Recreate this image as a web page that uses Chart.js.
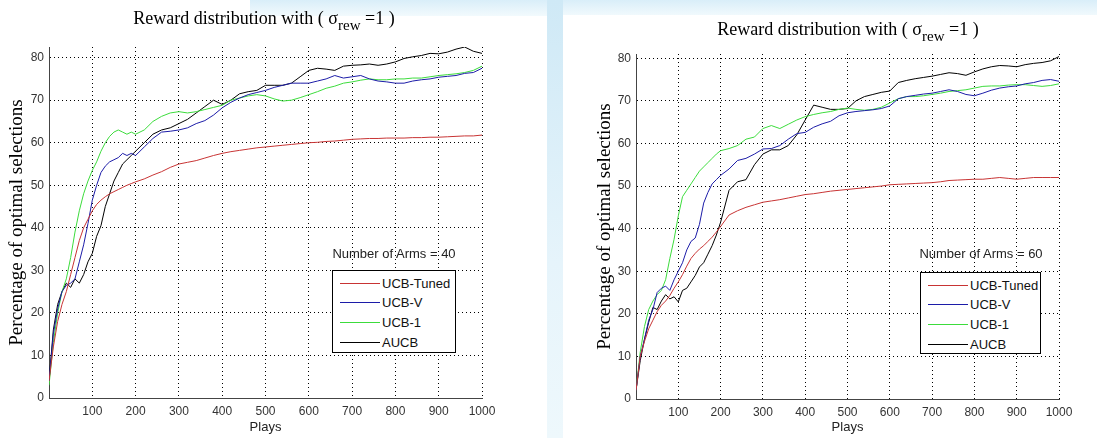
<!DOCTYPE html>
<html>
<head>
<meta charset="utf-8">
<script src="https://cdn.jsdelivr.net/npm/chart.js@4.4.0/dist/chart.umd.min.js"></script>
<style>
  body { margin: 0; width: 1097px; height: 438px; position: relative; overflow: hidden; background: #fff; }
  .tint-top { position: absolute; left: 250px; top: 0; width: 847px; height: 16px;
              background: linear-gradient(to bottom, #d9eef9, #f2fafd); }
  .tint-side { position: absolute; left: 547px; top: 0; width: 16px; height: 438px;
               background: linear-gradient(to bottom, #cfe9f6, #e6f4fb 60%, #eef8fc); }
  .sheet { position: absolute; left: 563px; top: 15px; width: 534px; height: 423px; background: #fff; }
  .box { position: absolute; top: 0; height: 438px; }
  .title { position: absolute; transform: translateX(-50%); white-space: nowrap;
           font: 18px "Liberation Serif", "Times New Roman", serif; line-height: 20px; color: #000; }
  .title sub { font-size: 15px; vertical-align: -6px; line-height: 0; }
  .note { position: absolute; transform: translateX(-50%); white-space: nowrap;
          font: 13px "Liberation Sans", Arial, sans-serif; color: #222; }
  .legend { position: absolute; border: 1px solid #000; background: #fff; box-sizing: border-box;
            font: 13px "Liberation Sans", Arial, sans-serif; color: #111; }
  .legend .row { position: absolute; left: 7px; height: 16px; display: flex; align-items: center; }
  .legend .swatch { width: 40px; height: 0; border-top: 1px solid; margin-right: 2px; }
</style>
</head>
<body>
<div class="tint-top"></div>
<div class="tint-side"></div>
<div class="sheet"></div>

<div class="box" style="left:0;width:548px"><canvas id="c40" width="548" height="438"></canvas></div>
<div class="box" style="left:588px;width:509px"><canvas id="c60" width="509" height="438"></canvas></div>

<div class="title" style="left:264px;top:8px">Reward distribution with ( &sigma;<sub>rew</sub> =1 )</div>
<div class="title" style="left:848px;top:19px">Reward distribution with ( &sigma;<sub>rew</sub> =1 )</div>
<div class="note" style="left:394px;top:246px">Number of Arms = 40</div>
<div class="note" style="left:981px;top:246px">Number of Arms = 60</div>
<div class="legend" id="leg40" style="left:332px;top:270px;width:124px;height:83px"></div>
<div class="legend" id="leg60" style="left:920px;top:272px;width:121px;height:82px"></div>

<script>
// x positions (plays) shared by every series
const plays = [0, 10, 20, 30, 40, 50, 60, 70, 80, 90, 100, 110, 120, 130, 140, 150, 160, 170, 180, 190, 200,
  220, 240, 260, 280, 300, 320, 340, 360, 380, 400, 420, 440, 460, 480, 500, 520, 540, 560, 580, 600,
  620, 640, 660, 680, 700, 720, 740, 760, 780, 800, 820, 840, 860, 880, 900, 920, 940, 960, 980, 1000];

const seriesNames = ['UCB-Tuned', 'UCB-V', 'UCB-1', 'AUCB'];
const seriesColors = ['#c83434', '#1c1ca8', '#3cdc3c', '#000000'];

// Number of arms = 40
const tuned40 = [4, 12, 18, 22, 25, 29, 33, 37, 40, 42, 44, 45.5, 46.5, 47.3, 48, 48.5, 49, 49.5, 50, 50.4, 50.8,
  51.5, 52.4, 53.2, 54.2, 55, 55.4, 55.8, 56.4, 57, 57.5,
  57.9, 58.2, 58.5, 58.8, 59, 59.2, 59.4, 59.6, 59.8, 60,
  60.1, 60.3, 60.4, 60.6, 60.8, 60.9, 61, 61, 61.1, 61.1,
  61.1, 61.2, 61.2, 61.3, 61.3, 61.4, 61.5, 61.6, 61.6, 61.8];
const ucbv40 = [4, 15, 21, 25, 26.5, 27, 28, 32, 36, 41, 46.5, 50, 53, 54.5, 55.5, 56, 56.5, 57.5, 57, 57.5, 57,
  59, 61, 62.5, 62.7, 63, 63.5, 64.5, 65.2, 66.5, 68.2,
  69.5, 70.5, 71.3, 71.8, 72.3, 73, 73.5, 74, 74, 74,
  74.5, 75, 75.8, 75.2, 75.5, 75.8, 75, 74.5, 74.3, 74,
  74, 74.5, 74.8, 75, 75.4, 75.6, 75.8, 76.3, 76.5, 77.5];
const ucb140 = [3, 13, 20, 25, 28, 33, 39, 44, 48, 51, 53.5, 55.5, 58, 60, 61.5, 62.5, 63, 62.5, 62, 62.5, 62,
  63, 65, 66.2, 67, 67.3, 67, 67.3, 67.8, 68.3, 68.8,
  70, 70.5, 71, 71.3, 71, 70.3, 69.8, 70, 70.6, 71.3,
  72, 72.8, 73.3, 74, 74.3, 74.7, 75, 74.8, 74.8, 75,
  75, 75.2, 75.2, 75.5, 75.8, 76, 76.2, 76.5, 77, 78];
const aucb40 = [4, 16, 22, 25, 27, 26, 28, 27, 29, 32, 34, 38, 40.5, 45, 48, 51, 53, 55, 56, 57, 58,
  60, 62, 63, 63.5, 64.5, 65.5, 67, 68.5, 70, 69,
  70, 71.5, 72, 72.3, 73.5, 73.5, 73.5, 74, 75.5, 77,
  77.5, 77.3, 77, 78, 78.2, 78.3, 78.5, 78.2, 78.5, 79,
  79.8, 80.2, 80.5, 81, 80.9, 81.3, 82, 82.5, 81.5, 81];

// Number of arms = 60
const tuned60 = [2, 10, 13.5, 16.5, 18.5, 20.5, 22, 23, 24.3, 26, 27.5, 29.2, 31.2, 33, 34.2, 35.2, 36, 37, 38, 39.2, 40.5,
  43.2, 44.2, 45, 45.6, 46.2, 46.5, 46.8, 47.2, 47.6, 48,
  48.2, 48.5, 48.8, 49, 49.2, 49.4, 49.6, 49.8, 50, 50.3,
  50.4, 50.5, 50.6, 50.7, 50.8, 51, 51.3, 51.4, 51.5, 51.6,
  51.6, 51.8, 52, 51.8, 51.6, 51.8, 52, 52, 52, 52];
const ucbv60 = [2, 10, 14, 18.5, 21, 25, 26, 26.5, 25.5, 28, 30, 32, 35, 37, 37.8, 41, 46, 48.5, 50.5, 51.5, 52.5,
  54, 56, 56.5, 57.5, 58.7, 58.8, 59.5, 61, 62.3, 62.6,
  63.8, 64.6, 65.2, 66.5, 67.2, 67.5, 67.7, 67.9, 68.2, 68.8,
  70.5, 71, 71.3, 71.6, 71.8, 72.2, 72.6, 72.2, 71.5, 71.2,
  71.8, 72.5, 73, 73.3, 73.5, 74, 74.3, 74.8, 75, 74.6];
const ucb160 = [2, 11, 17, 21, 23, 24.5, 25.5, 28, 33, 37.5, 43, 47.5, 49, 50.5, 52, 53.5, 54.5, 55.5, 56.5, 57.5, 58.3,
  58.8, 59.5, 61, 61.5, 63.5, 64.2, 63.5, 64.5, 65.5, 66.3,
  66.8, 67.2, 67.5, 68, 68.3, 68, 67.8, 68, 68.5, 69.5,
  70.5, 71, 71, 71.2, 71.5, 71.8, 72.2, 72.4, 72.6, 73,
  73.4, 73.5, 73.5, 73.7, 73.8, 73.8, 73.6, 73.4, 73.6, 74];
const aucb60 = [2, 9, 14, 18, 21.5, 21, 23, 24.5, 23.5, 24, 22.8, 25.5, 26, 27.5, 29, 31, 32, 34, 36, 38.5, 41.5,
  49, 51, 51.5, 55, 57.5, 58.5, 58.5, 59.5, 62, 65.5,
  69, 68.5, 68, 68, 68.2, 70, 71, 71.5, 72, 72.3,
  74.3, 74.8, 75.2, 75.5, 75.8, 76.2, 76.6, 76.4, 76, 76.8,
  77.5, 78, 78.3, 78.2, 78, 78.5, 78.8, 79, 79.4, 80.4];

const xTicks = [100, 200, 300, 400, 500, 600, 700, 800, 900, 1000];
const yTicks = [0, 10, 20, 30, 40, 50, 60, 70, 80];

const tickFont = { family: '"Liberation Sans", Arial, sans-serif', size: 12 };

function makeChart(id, valueLists, yMax, pad, yWidth, xHeight) {
  const datasets = valueLists.map((vals, i) => ({
    label: seriesNames[i],
    data: plays.map((p, j) => ({ x: p, y: vals[j] })),
    borderColor: seriesColors[i],
    borderWidth: 1,
    pointRadius: 0,
    tension: 0
  }));
  return new Chart(document.getElementById(id), {
    type: 'line',
    data: { datasets },
    options: {
      responsive: false,
      animation: false,
      layout: { padding: pad },
      plugins: { legend: { display: false }, tooltip: { enabled: false } },
      scales: {
        x: {
          type: 'linear', min: 0, max: 1000,
          afterBuildTicks: s => { s.ticks = xTicks.map(v => ({ value: v })); },
          afterFit: s => { s.height = xHeight; },
          ticks: { font: tickFont, color: '#333', padding: 6, maxRotation: 0, callback: v => String(v) },
          grid: { color: '#000', lineWidth: 1, drawTicks: false },
          border: { color: '#444', width: 1, dash: [1, 3] },
          title: { display: true, text: 'Plays', color: '#222',
                   font: { family: '"Liberation Sans", Arial, sans-serif', size: 13 },
                   padding: { top: 0, bottom: 3 } }
        },
        y: {
          min: 0, max: yMax,
          afterBuildTicks: s => { s.ticks = yTicks.map(v => ({ value: v })); },
          afterFit: s => { s.width = yWidth; },
          ticks: { font: tickFont, color: '#333', padding: 5, callback: v => String(v) },
          grid: { color: '#000', lineWidth: 1, drawTicks: false },
          border: { color: '#444', width: 1, dash: [1, 3] },
          title: { display: true, text: 'Percentage of optimal selections', color: '#000',
                   font: { family: '"Liberation Serif", "Times New Roman", serif', size: 19 },
                   padding: { top: 6, bottom: 0 } }
        }
      }
    }
  });
}

function makeLegend(id) {
  const box = document.getElementById(id);
  seriesNames.forEach((name, i) => {
    const row = document.createElement('div');
    row.className = 'row';
    row.style.top = (4 + i * 19.7) + 'px';
    const sw = document.createElement('span');
    sw.className = 'swatch';
    sw.style.borderTopColor = seriesColors[i];
    const txt = document.createElement('span');
    txt.textContent = name;
    row.appendChild(sw);
    row.appendChild(txt);
    box.appendChild(row);
  });
}

makeChart('c40', [tuned40, ucbv40, ucb140, aucb40], 82.5, { left: 0, right: 66, top: 47, bottom: 0 }, 49, 40);
makeChart('c60', [tuned60, ucbv60, ucb160, aucb60], 81, { left: 0, right: 38, top: 54, bottom: 0 }, 48, 39);
makeLegend('leg40');
makeLegend('leg60');
</script>
</body>
</html>
